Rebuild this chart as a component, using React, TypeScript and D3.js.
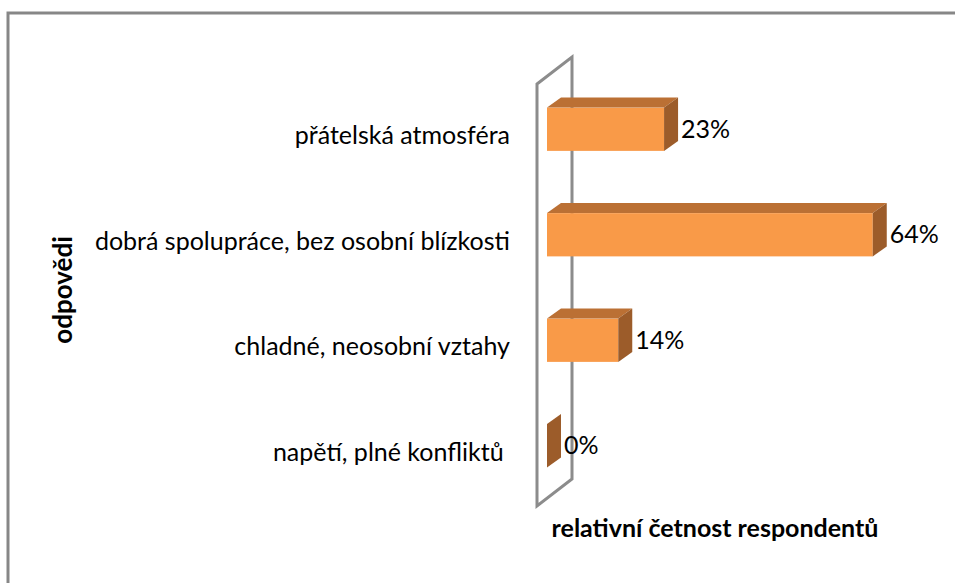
import React from 'react'
import * as d3 from 'd3'

const categories = [
  'přátelská atmosféra',
  'dobrá spolupráce, bez osobní blízkosti',
  'chladné, neosobní vztahy',
  'napětí, plné konfliktů ',
]
const shares = [0.23, 0.64, 0.14, 0]
const valueLabels = ['23%', '64%', '14%', '0%']

const W = 955
const H = 583
const FONT = 'Lato, "Open Sans", sans-serif'

// depth of the back wall and of the bars (oblique 3D look)
const wallDepth = { dx: 35, dy: -27 }
const barGap = { dx: 10, dy: -7.5 }
const barDepth = { dx: 14, dy: -10 }

export default function App() {
  const y = d3.scaleBand<string>()
    .domain(categories)
    .range([84, 506])
    .paddingInner(0.59)
    .paddingOuter(0.295)
  const x = d3.scaleLinear().domain([0, 1]).range([537, 537 + 509])
  const bw = y.bandwidth()
  const x0 = x(0)
  const [wTop, wBot] = y.range()

  const wall = [
    [x0, wTop], [x0 + wallDepth.dx, wTop + wallDepth.dy],
    [x0 + wallDepth.dx, wBot + wallDepth.dy], [x0, wBot],
  ]
  const line = d3.line()

  return (
    <svg width={W} height={H} style={{ position: 'absolute', left: 0, top: 0, background: '#fff' }}>
      <rect x={8} y={13} width={980} height={620} fill="#fff" stroke="#878787" strokeWidth={3} />

      {/* back wall */}
      <path d={line(wall as [number, number][]) + 'Z'} fill="none" stroke="#8c8c8c" strokeWidth={3} />

      {categories.map((c, i) => {
        const fx0 = x0 + barGap.dx
        const fx1 = x(shares[i]) + barGap.dx
        const fy0 = (y(c) as number) + barGap.dy
        const fy1 = fy0 + bw
        const dx = barDepth.dx, dy = barDepth.dy
        const top = [[fx0, fy0], [fx0 + dx, fy0 + dy], [fx1 + dx, fy0 + dy], [fx1, fy0]]
        const side = [[fx1, fy0], [fx1 + dx, fy0 + dy], [fx1 + dx, fy1 + dy], [fx1, fy1]]
        return (
          <g key={c}>
            {shares[i] > 0 && (
              <>
                <rect x={fx0} y={fy0} width={fx1 - fx0} height={bw} fill="#f99a48" />
                <path d={line(top as [number, number][]) + 'Z'} fill="#bb7034" />
              </>
            )}
            <path d={line(side as [number, number][]) + 'Z'} fill="#9c5c2a" />
            <text x={fx1 + dx + 3} y={fy0 + bw / 2 + 2} dominantBaseline="middle"
              fontFamily={FONT} fontSize={25} fill="#000">{valueLabels[i]}</text>
            <text x={510} y={(y(c) as number) + bw / 2 + 1} textAnchor="end" dominantBaseline="middle"
              fontFamily={FONT} fontSize={25} fill="#000" style={{ whiteSpace: 'pre' }}>{c}</text>
          </g>
        )
      })}

      <text x={715} y={531} textAnchor="middle" dominantBaseline="middle"
        fontFamily={FONT} fontSize={25} fontWeight="bold" fill="#000">relativní četnost respondentů</text>
      <text transform="translate(65,290) rotate(-90)" textAnchor="middle" dominantBaseline="middle"
        fontFamily={FONT} fontSize={26} fontWeight="bold" fill="#000">odpovědi</text>
    </svg>
  )
}
